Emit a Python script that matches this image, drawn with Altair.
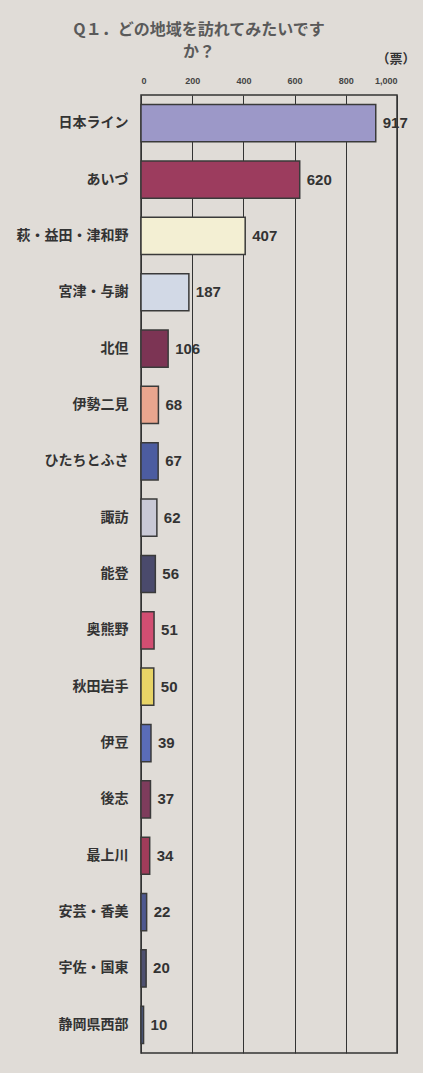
import altair as alt
import pandas as pd

regions = ["日本ライン", "あいづ", "萩・益田・津和野", "宮津・与謝", "北但", "伊勢二見",
           "ひたちとふさ", "諏訪", "能登", "奥熊野", "秋田岩手", "伊豆", "後志", "最上川",
           "安芸・香美", "宇佐・国東", "静岡県西部"]
votes = [917, 620, 407, 187, 106, 68, 67, 62, 56, 51, 50, 39, 37, 34, 22, 20, 10]
colors = ["#9c98c8", "#9c3c5e", "#f3efd3", "#d2d9e6", "#7c3454", "#e9a58e",
          "#4c5ca0", "#c9c9d6", "#4a4a6c", "#d24e72", "#e8d466", "#5a6cb8",
          "#7e3c5c", "#a03c5a", "#4e5890", "#4e5070", "#4c5880"]
x_ticks = [0, 200, 400, 600, 800, 1000]

df = pd.DataFrame({"region": regions, "votes": votes, "color": colors})

y_enc = alt.Y("region:N", sort=regions,
              scale=alt.Scale(paddingInner=0.34, paddingOuter=0.17),
              axis=alt.Axis(title=None, labelFontSize=14, labelFontWeight="bold",
                            labelColor="#333333", labelPadding=13, ticks=False,
                            domain=False, labelFont="Noto Sans CJK JP"))

bars = alt.Chart(df).mark_bar(stroke="#3a3a3a", strokeWidth=1.5).encode(
    x=alt.X("votes:Q", scale=alt.Scale(domain=[0, 1000], nice=False),
            axis=alt.Axis(orient="top", values=x_ticks, format=",d", title="（票）",
                          titleFontSize=13, titleFontWeight="bold", titleColor="#333333",
                          titleAnchor="end", titleAlign="right", titleX=274, titleY=-30,
                          titleFont="Noto Sans CJK JP",
                          labelFontSize=9, labelFontWeight="bold", labelColor="#444444",
                          labelPadding=10, ticks=False, domain=False,
                          grid=True, gridColor="#333333", gridWidth=1, gridOpacity=1)),
    y=y_enc,
    color=alt.Color("color:N", scale=None),
)

labels = alt.Chart(df).mark_text(align="left", baseline="middle", dx=7, fontSize=15,
                                 color="#333333", font="Liberation Sans",
                                 fontWeight="bold").encode(
    x="votes:Q",
    y=alt.Y("region:N", sort=regions),
    text="votes:Q",
)

chart = alt.layer(bars, labels).properties(
    width=256, height=958,
    padding={"left": 141, "top": 95, "right": 26, "bottom": 20},
    autosize=alt.AutoSizeParams(type="none"),
    background="#e0dcd7",
    title=alt.TitleParams(text="Q１．どの地域を訪れてみたいです", subtitle="か？",
                          fontSize=16, fontWeight="bold", color="#5a5a5a",
                          font="Noto Sans CJK JP", anchor="middle", dx=-70, dy=42,
                          offset=34, lineHeight=19,
                          subtitleFontSize=16, subtitleFontWeight="bold",
                          subtitleColor="#5a5a5a", subtitleFont="Noto Sans CJK JP",
                          subtitleLineHeight=19, subtitlePadding=6),
).configure_view(stroke="#333333", strokeWidth=1.5, fill="#e0dcd7")

chart.save("out.html", embed_options={"renderer": "svg", "actions": False})
